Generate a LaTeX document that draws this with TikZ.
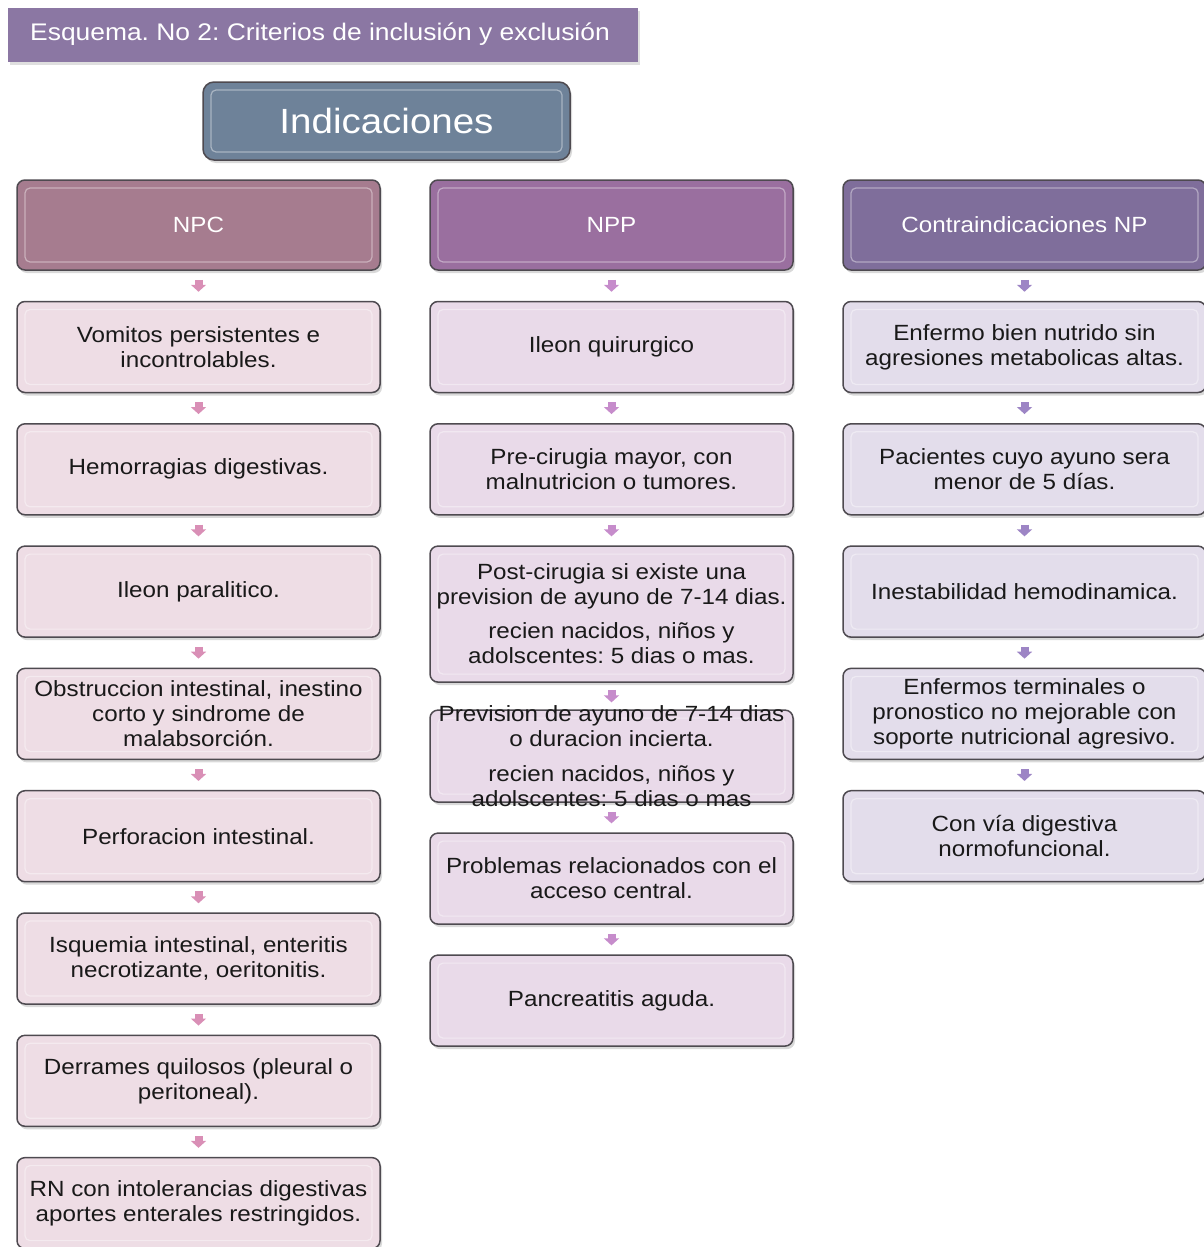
\documentclass[tikz,border=0pt]{standalone}
\usepackage{fontspec}
\setmainfont{Liberation Sans}[FakeStretch=1.1]
\frenchspacing
\usetikzlibrary{positioning,shadows,arrows.meta}

\definecolor{edge}{HTML}{4E4A50}
\definecolor{titlefill}{HTML}{8B77A3}
\definecolor{indfill}{HTML}{6E8299}
\definecolor{npchead}{HTML}{A67C8F}
\definecolor{npphead}{HTML}{9A6F9F}
\definecolor{conhead}{HTML}{7F6E9B}
\definecolor{npcitem}{HTML}{EEDDE5}
\definecolor{nppitem}{HTML}{E9DAE9}
\definecolor{conitem}{HTML}{E3DDEB}
\definecolor{npcarrow}{HTML}{D98FB6}
\definecolor{npparrow}{HTML}{C68CCB}
\definecolor{conarrow}{HTML}{9D85C5}

\begin{document}
\begin{tikzpicture}[x=1pt,y=-1pt,
  every node/.style={font=\fontsize{22}{25}\selectfont},
  box/.style={rectangle,rounded corners=8pt,draw=edge,line width=1.5pt,
    minimum width=363pt,minimum height=91pt,inner sep=0pt,align=center,
    drop shadow={shadow xshift=2pt,shadow yshift=-3pt,opacity=0.3},
    path picture={\draw[white,opacity=0.4,line width=1.2pt,rounded corners=5pt]
      ([shift={(8pt,-8pt)}]path picture bounding box.north west) rectangle
      ([shift={(-8pt,8pt)}]path picture bounding box.south east);}},
  head/.style={box,minimum height=90pt,text=white},
  item/.style={box,text=black!90},
  flow/.style={line width=8pt,-{Triangle[width=15pt,length=7pt]},
    shorten <=9pt,shorten >=9pt}
]
\useasboundingbox (0,0) rectangle (1204,1247);

% TITLE
\node[rectangle,fill=titlefill,minimum width=630pt,minimum height=54pt,
  drop shadow={shadow xshift=2pt,shadow yshift=-3pt,opacity=0.25}] (title) at (323,35) {};
\node[anchor=west,text=white,font=\fontsize{24}{28}\selectfont,inner sep=0pt] (titletext)
  at (30,34) {Esquema. No 2: Criterios de inclusión y exclusión};

\node[box,fill=indfill,minimum width=367pt,minimum height=78pt,rounded corners=11pt,
  text=white,font=\fontsize{35}{40}\selectfont] (ind) at (386.5,121) {Indicaciones};

% HEADERS
\node[head,fill=npchead] (npc) at (198.5,225) {NPC};
\node[head,fill=npphead] (npp) at (611.5,225) {NPP};
\node[head,fill=conhead] (con) at (1024.5,225) {Contraindicaciones NP};

% NPC
\node[item,fill=npcitem] (npc1) [below=30pt of npc] {Vomitos persistentes e\\incontrolables.};
\node[item,fill=npcitem] (npc2) [below=29.8pt of npc1] {Hemorragias digestivas.};
\node[item,fill=npcitem] (npc3) [below=29.8pt of npc2] {Ileon paralitico.};
\node[item,fill=npcitem] (npc4) [below=29.8pt of npc3] {Obstruccion intestinal, inestino\\corto y sindrome de\\malabsorción.};
\node[item,fill=npcitem] (npc5) [below=29.8pt of npc4] {Perforacion intestinal.};
\node[item,fill=npcitem] (npc6) [below=29.8pt of npc5] {Isquemia intestinal, enteritis\\necrotizante, oeritonitis.};
\node[item,fill=npcitem] (npc7) [below=29.8pt of npc6] {Derrames quilosos (pleural o\\peritoneal).};
\node[item,fill=npcitem] (npc8) [below=29.8pt of npc7] {RN con intolerancias digestivas\\aportes enterales restringidos.};

\draw[flow,npcarrow] (npc) -- (npc1);
\draw[flow,npcarrow] (npc1) -- (npc2);
\draw[flow,npcarrow] (npc2) -- (npc3);
\draw[flow,npcarrow] (npc3) -- (npc4);
\draw[flow,npcarrow] (npc4) -- (npc5);
\draw[flow,npcarrow] (npc5) -- (npc6);
\draw[flow,npcarrow] (npc6) -- (npc7);
\draw[flow,npcarrow] (npc7) -- (npc8);

% NPP
\node[item,fill=nppitem] (npp1) [below=30pt of npp] {Ileon quirurgico};
\node[item,fill=nppitem] (npp2) [below=29.8pt of npp1] {Pre-cirugia mayor, con\\malnutricion o tumores.};
\node[item,fill=nppitem,minimum height=136pt] (npp3) [below=29.8pt of npp2]
  {Post-cirugia si existe una\\prevision de ayuno de 7-14 dias.\\[9pt]recien nacidos, niños y\\adolscentes: 5 dias o mas.};
\node[item,fill=nppitem,minimum height=92pt,
  label={[text=black!90,align=center]center:Prevision de ayuno de 7-14 dias\\o duracion incierta.\\[10pt]recien nacidos, niños y\\adolscentes: 5 dias o mas}]
  (npp4) [below=26.5pt of npp3] {};
\node[item,fill=nppitem] (npp5) [below=29.5pt of npp4] {Problemas relacionados con el\\acceso central.};
\node[item,fill=nppitem] (npp6) [below=29.5pt of npp5] {Pancreatitis aguda.};

\draw[flow,npparrow] (npp) -- (npp1);
\draw[flow,npparrow] (npp1) -- (npp2);
\draw[flow,npparrow] (npp2) -- (npp3);
\draw[flow,npparrow,shorten <=7pt,shorten >=7pt] (npp3) -- (npp4);
\draw[flow,npparrow] (npp4) -- (npp5);
\draw[flow,npparrow] (npp5) -- (npp6);

% CONTRAINDICACIONES
\node[item,fill=conitem] (con1) [below=30pt of con] {Enfermo bien nutrido sin\\agresiones metabolicas altas.};
\node[item,fill=conitem] (con2) [below=29.8pt of con1] {Pacientes cuyo ayuno sera\\menor de 5 días.};
\node[item,fill=conitem] (con3) [below=29.8pt of con2] {Inestabilidad hemodinamica.};
\node[item,fill=conitem] (con4) [below=29.8pt of con3] {Enfermos terminales o\\pronostico no mejorable con\\soporte nutricional agresivo.};
\node[item,fill=conitem] (con5) [below=29.8pt of con4] {Con vía digestiva\\normofuncional.};

\draw[flow,conarrow] (con) -- (con1);
\draw[flow,conarrow] (con1) -- (con2);
\draw[flow,conarrow] (con2) -- (con3);
\draw[flow,conarrow] (con3) -- (con4);
\draw[flow,conarrow] (con4) -- (con5);

\end{tikzpicture}
\end{document}
